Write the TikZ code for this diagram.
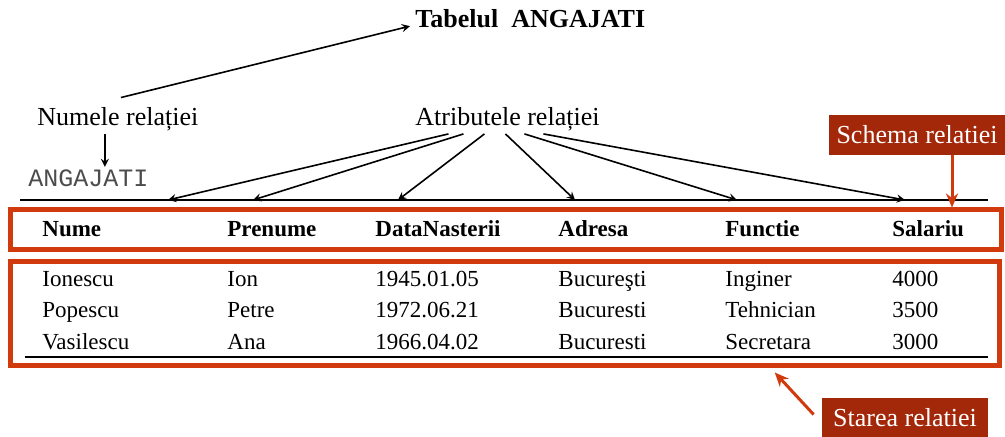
\documentclass[tikz,border=0pt]{standalone}
\usepackage{fontspec}
\setmainfont{Liberation Serif}
\setmonofont{Liberation Mono}
\usepackage{xcolor}
\usepackage{tikz}
\usetikzlibrary{arrows.meta}

\definecolor{frameRed}{HTML}{D03A0C}
\definecolor{tagRed}{HTML}{A3280A}

\tikzset{
  note/.style={anchor=base west, inner sep=0pt, font=\fontsize{13}{15}\selectfont},
  cell/.style={anchor=base west, inner sep=0pt, font=\fontsize{11.5}{13}\selectfont},
  headcell/.style={cell, font=\fontsize{11.5}{13}\selectfont\bfseries},
  tag/.style={fill=tagRed, text=white, inner sep=0pt, font=\fontsize{13}{15}\selectfont},
  frame/.style={draw=frameRed, line width=2.5pt, inner sep=0pt},
  redarrow/.style={->, frameRed, line width=1.5pt, >={Stealth[length=7pt, width=6pt]}}
}

\begin{document}
\begin{tikzpicture}[x=0.5pt, y=-0.5pt, >=stealth]
  \useasboundingbox (0,0) rectangle (1005,437);

  % labels above the table
  \node[note, font=\fontsize{13}{15}\selectfont\bfseries] (title) at (415,28) {Tabelul\ \ ANGAJATI};
  \node[note] (numele) at (37,126) {Numele relației};
  \node[note] (atrib) at (415,126) {Atributele relației};
  \node[note, font=\ttfamily\fontsize{12.5}{14}\selectfont, text=black!70] (relname) at (28,187) {ANGAJATI};
  \node[tag, minimum width=88pt, minimum height=20pt] (schema) at (917,135) {Schema relatiei};

  \draw[->, thick] ([shift={(3,-10)}]numele.north) -- ([shift={(-5,7)}]title.west);
  \coordinate (nmDown) at ([shift={(-13,2)}]numele.south);
  \draw[->, thick, shorten >=1.5pt] (nmDown) -- (nmDown |- relname.north);

  % line with the attribute arrows
  \draw[line width=1pt] (20,200) -- (988,200);
  \foreach \x [count=\i] in {168,253,398,575,737,905}
    \coordinate (tip\i) at (\x,200);
  \foreach \dx [count=\i] in {-59,-44,-23,-2,17,36}
    \draw[->, thick] ([shift={(\dx,2)}]atrib.south) -- (tip\i);

  % schema and state frames
  \node[frame, minimum width=495.5pt, minimum height=20pt] (schemaFrame) at (505.5,230) {};
  \node[frame, minimum width=494.25pt, minimum height=52pt] (stateFrame) at (504.75,314) {};
  \draw[line width=1pt] (25,357) -- (988,357);

  \foreach \x/\name [count=\i] in {42/Nume, 227/Prenume, 375/DataNasterii,
      558/Adresa, 725/Functie, 892/Salariu}
    \node[headcell] (head\i) at (\x,237) {\name};

  \foreach \y/\a/\b/\c/\d/\e/\f [count=\r] in {
      287/Ionescu/Ion/1945.01.05/Bucureşti/Inginer/4000,
      318/Popescu/Petre/1972.06.21/Bucuresti/Tehnician/3500,
      350/Vasilescu/Ana/1966.04.02/Bucuresti/Secretara/3000} {
    \node[cell] (row\r-1) at (42,\y) {\a};
    \node[cell] (row\r-2) at (227,\y) {\b};
    \node[cell] (row\r-3) at (375,\y) {\c};
    \node[cell] (row\r-4) at (558,\y) {\d};
    \node[cell] (row\r-5) at (725,\y) {\e};
    \node[cell] (row\r-6) at (892,\y) {\f};
  }

  \node[tag, minimum width=83pt, minimum height=19.5pt] (starea) at (905,417.5) {Starea relatiei};

  \draw[redarrow] ([xshift=17.5pt]schema.south) -- ([xshift=17.5pt]schema.south |- schemaFrame.north);
  \draw[redarrow] ([shift={(-8,-3)}]starea.west) -- ([shift={(270,4)}]stateFrame.south);
\end{tikzpicture}
\end{document}
